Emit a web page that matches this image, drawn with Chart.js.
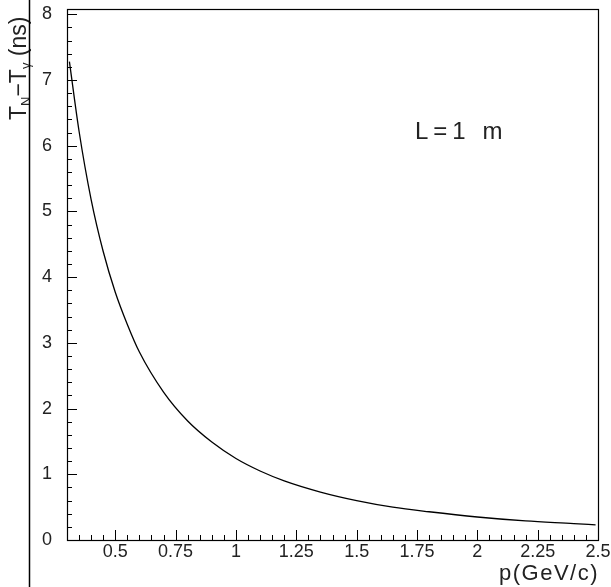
<!DOCTYPE html>
<html>
<head>
<meta charset="utf-8">
<script src="https://cdn.jsdelivr.net/npm/chart.js@4.4.0/dist/chart.umd.min.js"></script>
<style>
  body { margin: 0; background: #fff; }
  canvas { display: block; }
</style>
</head>
<body>
<canvas id="tofChart" width="611" height="587"></canvas>
<script>
// momentum p (GeV/c) and time difference T_N - T_gamma (ns)
const momentum = [0.31, 0.35, 0.4, 0.45, 0.5, 0.55, 0.6, 0.7, 0.8, 0.9, 1.0, 1.1, 1.2, 1.35, 1.5, 1.65, 1.8, 2.0, 2.2, 2.4, 2.49];
const timeDiff = [7.28, 6.22, 5.18, 4.39, 3.77, 3.28, 2.86, 2.25, 1.81, 1.49, 1.24, 1.05, 0.9, 0.73, 0.6, 0.5, 0.43, 0.35, 0.29, 0.25, 0.23];

// axis ticks
const xTicks = [0.5, 0.75, 1, 1.25, 1.5, 1.75, 2, 2.25, 2.5];
const xTickLabels = ["0.5", "0.75", "1", "1.25", "1.5", "1.75", "2", "2.25", "2.5"];
const yTicks = [0, 1, 2, 3, 4, 5, 6, 7, 8];
const yTickLabels = ["0", "1", "2", "3", "4", "5", "6", "7", "8"];

const FONT = '"Liberation Sans", Arial, sans-serif';

// frame, inward ticks, labels and titles drawn like the original plot
const framePlugin = {
  id: 'framePlugin',
  afterDraw(chart) {
    const ctx = chart.ctx;
    const a = chart.chartArea;
    const x = chart.scales.x;
    const y = chart.scales.y;
    ctx.save();
    ctx.strokeStyle = '#000';
    ctx.lineWidth = 1.2;
    ctx.strokeRect(a.left + 0.5, a.top + 0.5, a.right - a.left, a.bottom - a.top);

    // x ticks (minor every 0.05)
    ctx.lineWidth = 1;
    ctx.beginPath();
    for (let i = 0; i <= 44; i++) {
      const v = 0.3 + i * 0.05;
      const px = Math.round(x.getPixelForValue(v)) + 0.5;
      const major = xTicks.some(t => Math.abs(t - v) < 1e-6);
      ctx.moveTo(px, a.bottom);
      ctx.lineTo(px, a.bottom - (major ? 10 : 5));
    }
    // y ticks (minor every 0.2)
    for (let i = 0; i <= 40; i++) {
      const v = i * 0.2;
      const py = Math.round(y.getPixelForValue(v)) + 0.5;
      const major = i % 5 === 0;
      ctx.moveTo(a.left, py);
      ctx.lineTo(a.left + (major ? 10 : 5), py);
    }
    ctx.stroke();

    // tick labels
    ctx.fillStyle = '#222';
    ctx.font = '18px ' + FONT;
    ctx.textAlign = 'center';
    ctx.textBaseline = 'middle';
    xTicks.forEach((v, i) => {
      ctx.fillText(xTickLabels[i], x.getPixelForValue(v), a.bottom + 12);
    });
    yTicks.forEach((v, i) => {
      ctx.fillText(yTickLabels[i], 47, y.getPixelForValue(v));
    });

    // x title
    ctx.font = '22px ' + FONT;
    ctx.letterSpacing = '1.5px';
    ctx.textAlign = 'right';
    ctx.textBaseline = 'alphabetic';
    ctx.fillText('p(GeV/c)', a.right + 1, 580);

    // annotation
    ctx.font = '24px ' + FONT;
    ctx.letterSpacing = '5px';
    ctx.textAlign = 'left';
    ctx.fillText('L=1 m', 415, 139);
    ctx.letterSpacing = '0px';

    // y title, rotated
    ctx.translate(26, 120);
    ctx.rotate(-Math.PI / 2);
    ctx.textAlign = 'left';
    let cx = 0;
    const part = (txt, size, dy) => {
      ctx.font = size + 'px ' + FONT;
      ctx.fillText(txt, cx, dy);
      cx += ctx.measureText(txt).width;
    };
    part('T', 23, 0);
    part('N', 13, 4);
    part('\u2212', 23, 0);
    part('T', 23, 0);
    part('\u03b3', 13, 4);
    part(' (ns)', 23, 0);
    ctx.restore();

    // separator line on the left
    ctx.save();
    ctx.strokeStyle = '#000';
    ctx.lineWidth = 1.5;
    ctx.beginPath();
    ctx.moveTo(29.5, 0);
    ctx.lineTo(29.5, chart.height);
    ctx.stroke();
    ctx.restore();
  }
};

const ctxTof = document.getElementById('tofChart').getContext('2d');
const tofChart = new Chart(ctxTof, {
  type: 'line',
  data: {
    datasets: [{
      data: momentum.map((p, i) => ({ x: p, y: timeDiff[i] })),
      borderColor: '#000',
      borderWidth: 1.3,
      pointRadius: 0,
      fill: false,
      cubicInterpolationMode: 'monotone'
    }]
  },
  options: {
    responsive: false,
    animation: false,
    layout: { padding: { left: 67, right: 13, top: 9, bottom: 47 } },
    plugins: { legend: { display: false }, tooltip: { enabled: false } },
    scales: {
      x: { type: 'linear', min: 0.3, max: 2.5, display: false },
      y: { type: 'linear', min: 0, max: 8.08, display: false }
    }
  },
  plugins: [framePlugin]
});
</script>
</body>
</html>
